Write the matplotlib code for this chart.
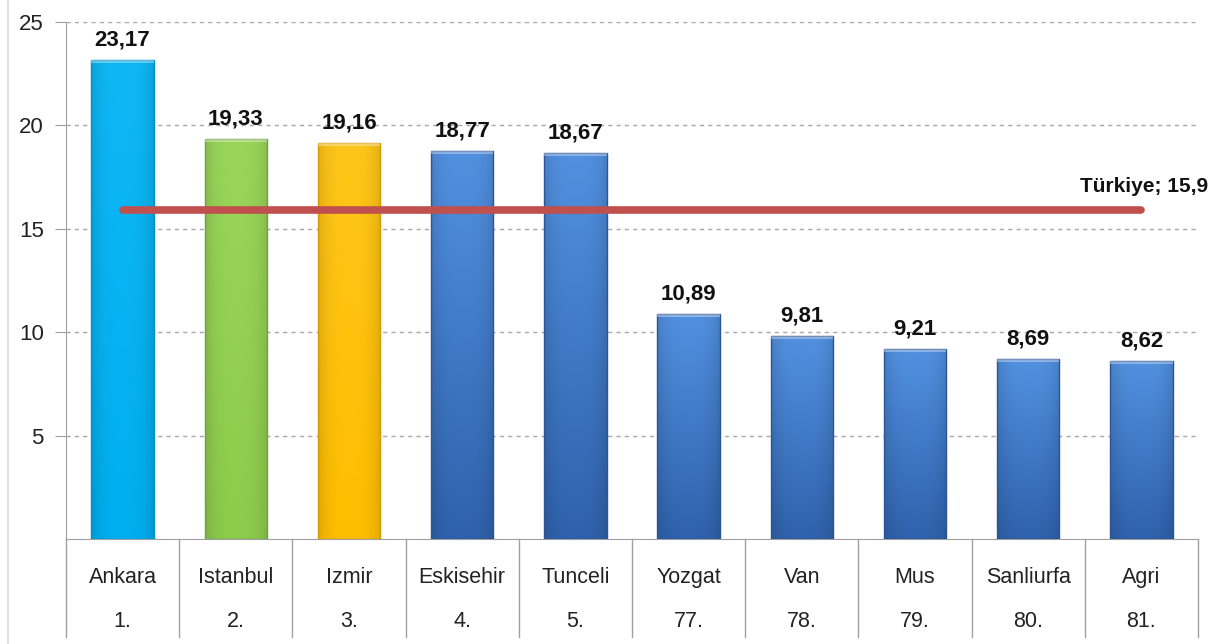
import numpy as np
import matplotlib.pyplot as plt
from matplotlib.colors import to_rgb

plt.rcParams['font.family'] = ['Liberation Sans', 'DejaVu Sans']

# Data
cities = ['Ankara', 'Istanbul', 'Izmir', 'Eskisehir', 'Tunceli',
          'Yozgat', 'Van', 'Mus', 'Sanliurfa', 'Agri']
ranks = ['1.', '2.', '3.', '4.', '5.', '77.', '78.', '79.', '80.', '81.']
values = [23.17, 19.33, 19.16, 18.77, 18.67, 10.89, 9.81, 9.21, 8.69, 8.62]
turkiye = 15.9

# (top, bottom, edge) colours for the bar shading
colors = [('#0FB8F5', '#00AEEF', '#0090C8'),
          ('#9AD65A', '#8CCB4C', '#6FA33A'),
          ('#FFC61A', '#FFBE00', '#D49A00')] + \
         [('#5291E0', '#2F62AC', '#2A5696')] * 7

fig = plt.figure(figsize=(12.16, 6.44), dpi=100)
ax = fig.add_axes([66 / 1216, 105 / 644, 1132 / 1216, 517 / 644])

# faint frame line on the left of the picture
fig.add_artist(plt.Line2D([8 / 1216, 8 / 1216], [0, 1], color='#E2E2E2', linewidth=1.5))

x = np.arange(len(cities))
bars = ax.bar(x, values, width=0.55, color='none', edgecolor='none', zorder=3)

# shaded fill for each bar: vertical blend, darker at the sides
for b, (top, bot, edge) in zip(bars, colors):
    t = np.linspace(0, 1, 80).reshape(-1, 1, 1)
    col = np.array(to_rgb(top)) * (1 - t) + np.array(to_rgb(bot)) * t
    h = np.linspace(-1, 1, 60)
    shade = 1 - 0.12 * np.abs(h) ** 3
    img = np.clip(col * shade.reshape(1, -1, 1), 0, 1)
    im = ax.imshow(img, aspect='auto', zorder=3, origin='upper',
                   extent=[b.get_x(), b.get_x() + b.get_width(), 0, b.get_height()])
    im.set_clip_path(b)
    ax.bar(b.get_x() + b.get_width() / 2, b.get_height(), width=b.get_width(),
           color='none', edgecolor=edge, linewidth=1, zorder=4)
    ax.bar(b.get_x() + b.get_width() / 2, 0.15, bottom=b.get_height() - 0.15,
           width=b.get_width(), color='white', edgecolor='none', alpha=0.35, zorder=4)

for xi, v in zip(x, values):
    ax.text(xi, v + 0.45, f'{v:.2f}'.replace('.', ','), ha='center', va='bottom',
            fontsize=16, fontweight='bold', color='#111111', zorder=5)

# national average line
ax.plot([x[0], x[-1]], [turkiye, turkiye], color='#C0504D', linewidth=5.5,
        solid_capstyle='round', zorder=6)
ax.text(x[-1] + 0.59, turkiye + 0.7, 'Türkiye; 15,9', ha='right', va='bottom',
        fontsize=15, fontweight='bold', color='#111111')

ax.set_xlim(-0.5, len(cities) - 0.5)
ax.set_ylim(0, 25)
ax.set_yticks([5, 10, 15, 20, 25])
ax.tick_params(axis='y', labelsize=16, length=8, color='#A0A0A0', labelcolor='#222222', pad=8)
ax.yaxis.grid(True, linestyle=(0, (3, 3)), color='#A8A8A8', linewidth=1)
ax.set_axisbelow(True)

for s in ['top', 'right']:
    ax.spines[s].set_visible(False)
ax.spines['left'].set_color('#A0A0A0')
ax.spines['bottom'].set_color('#A0A0A0')

ax.set_xticks([])
trans = ax.get_xaxis_transform()
for xi, c, r in zip(x, cities, ranks):
    ax.text(xi, -0.075, c, transform=trans, ha='center', va='center', fontsize=15.5, color='#222222')
    ax.text(xi, -0.16, r, transform=trans, ha='center', va='center', fontsize=15.5, color='#222222')
for b in np.arange(-0.5, len(cities), 1.0):
    ax.plot([b, b], [0, -0.19], transform=trans, color='#A0A0A0', linewidth=1, clip_on=False)

fig.savefig('out.png', dpi=100)
